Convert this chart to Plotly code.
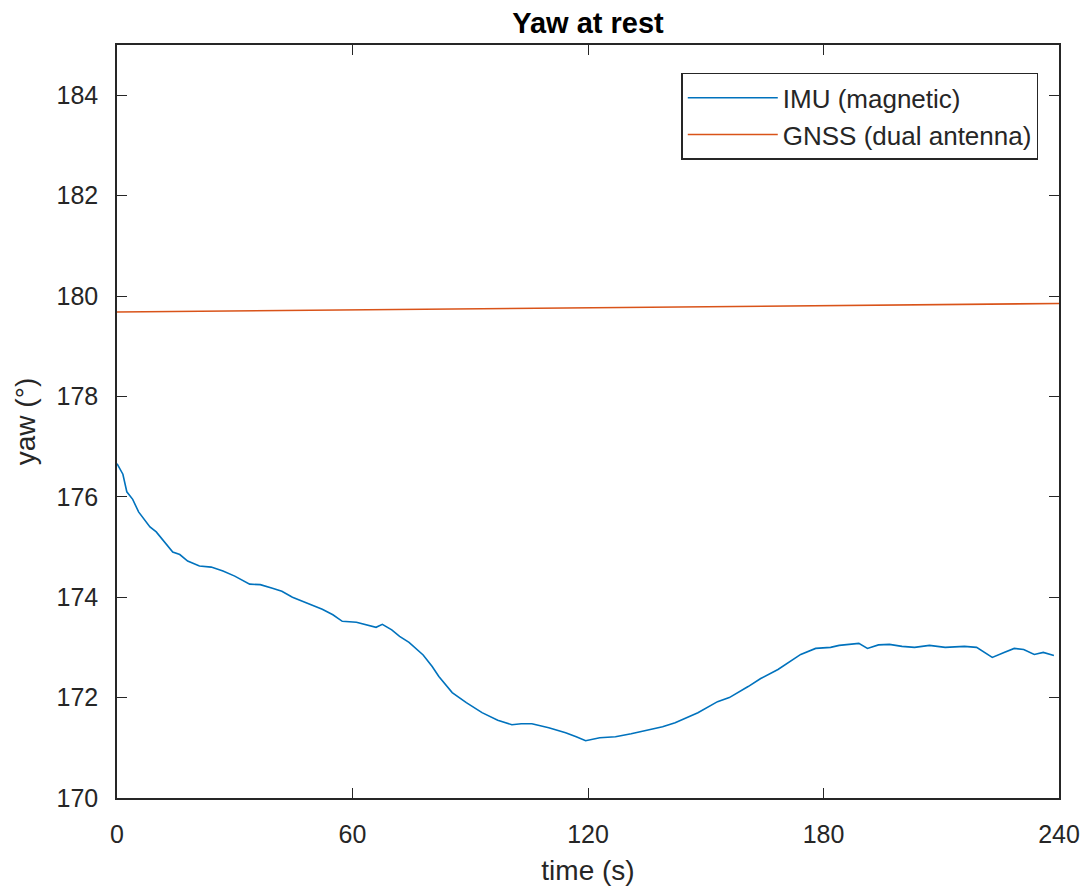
import plotly.graph_objects as go

# IMU yaw (time in s, yaw in degrees)
imu_t = [0, 1.5, 2.5, 4, 5.5, 7, 8.4, 10, 12, 14.2, 16, 18, 21, 24, 27, 30, 33.8,
         36.5, 39.6, 42, 44.7, 48, 52.3, 55, 57.4, 61, 64, 66, 67.6, 70, 72,
         74.4, 78, 80.3, 82, 85.4, 89, 93, 97, 100.6, 103, 105.7, 110, 114.3,
         117, 119.4, 123, 127, 131, 135.4, 139, 142.2, 145, 148, 153, 156,
         160.8, 164, 168.4, 171, 174.2, 178, 181.8, 184, 187, 189, 191.2, 194,
         196.8, 200, 203.2, 207, 211, 215.9, 219, 223, 226, 228.6, 231, 233.7,
         236, 238.7]
imu_yaw = [176.66, 176.45, 176.1, 175.95, 175.7, 175.55, 175.4, 175.3, 175.1, 174.9,
           174.85, 174.72, 174.62, 174.6, 174.52, 174.42, 174.26, 174.25, 174.18,
           174.12, 174.0, 173.9, 173.76, 173.65, 173.52, 173.5, 173.44, 173.4,
           173.46, 173.35, 173.22, 173.1, 172.85, 172.62, 172.42, 172.1, 171.9,
           171.7, 171.55, 171.46, 171.48, 171.48, 171.4, 171.3, 171.22, 171.14,
           171.2, 171.22, 171.28, 171.36, 171.42, 171.5, 171.6, 171.7, 171.92,
           172.0, 172.22, 172.38, 172.56, 172.7, 172.86, 172.98, 173.0, 173.04,
           173.06, 173.08, 172.98, 173.05, 173.06, 173.02, 173.0, 173.04, 173.0,
           173.02, 173.0, 172.8, 172.9, 172.98, 172.96, 172.86, 172.9, 172.84]

# GNSS dual antenna yaw
gnss_t = [0, 60, 120, 180, 240]
gnss_yaw = [179.68, 179.72, 179.76, 179.80, 179.85]

axis_col = "#262626"
font_fam = "Liberation Sans, Arial, sans-serif"

fig = go.Figure()
fig.add_trace(go.Scatter(x=imu_t, y=imu_yaw, mode="lines", name="IMU (magnetic)",
                         line=dict(color="#0072BD", width=1.6)))
fig.add_trace(go.Scatter(x=gnss_t, y=gnss_yaw, mode="lines", name="GNSS (dual antenna)",
                         line=dict(color="#D95319", width=1.6)))

# page body has an 8px margin, so the figure is 8px smaller than the window
fig.update_layout(
    width=1084, height=886,
    paper_bgcolor="white", plot_bgcolor="white",
    margin=dict(l=109, r=30, t=37, b=96),
    font=dict(family=font_fam, size=25, color=axis_col),
    title=dict(text="<b>Yaw at rest</b>", x=0.5, xref="paper", xanchor="center",
               y=0.995, yref="container", yanchor="top", pad=dict(t=0, b=0),
               font=dict(size=29, color="black")),
    showlegend=True,
    legend=dict(x=0.978, y=0.963, xanchor="right", yanchor="top",
                bordercolor=axis_col, borderwidth=1.5, bgcolor="white",
                font=dict(size=26, color=axis_col), tracegroupgap=0, itemwidth=90),
)
fig.update_xaxes(range=[0, 240], tickvals=[0, 60, 120, 180, 240], ticks="inside",
                 ticklen=10, tickcolor=axis_col, showline=True, linecolor=axis_col,
                 linewidth=1.5, mirror="ticks", showgrid=False, zeroline=False,
                 ticklabelstandoff=13,
                 title=dict(text="time (s)", font=dict(size=28), standoff=14))
fig.update_yaxes(range=[170, 185], tickvals=list(range(170, 185, 2)), ticks="inside",
                 ticklen=10, tickcolor=axis_col, showline=True, linecolor=axis_col,
                 linewidth=1.5, mirror="ticks", showgrid=False, zeroline=False,
                 ticklabelstandoff=12,
                 title=dict(text="yaw (°)", font=dict(size=28), standoff=13))

fig.write_html("out.html")
